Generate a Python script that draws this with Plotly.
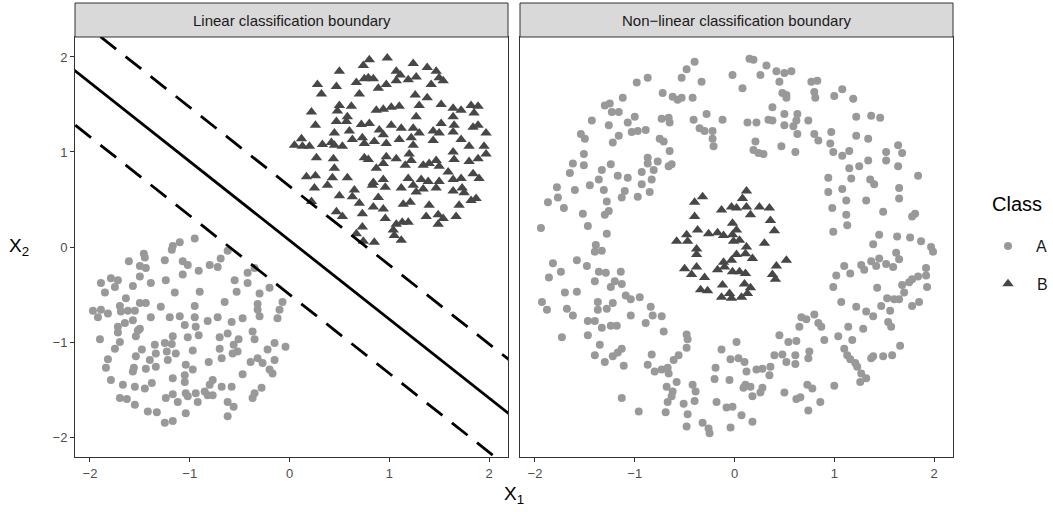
import plotly.graph_objects as go

# ---------------- data ----------------
# Left panel: linearly separable classes
left_A_x = [-0.95,-1.10,-1.17,-1.18,-0.62,-1.46,-1.45,-1.61,-1.25,-1.07,-1.02,-1.50,-1.44,-0.80,-0.72,-0.69,-0.91,-1.07,-0.42,-0.35,
            -1.79,-1.72,-1.50,-1.89,-1.75,-1.57,-1.39,-1.24,-0.55,-0.42,-1.85,-1.15,-0.90,-0.53,-0.30,-0.20,-1.64,-0.65,-0.32,-0.07,
            -1.70,-1.50,-1.44,-1.29,-0.95,-1.97,-1.89,-1.82,-1.69,-1.62,-1.55,-1.92,-1.39,-1.20,-1.10,-0.95,-0.82,-0.72,-0.58,-0.47,
            -0.32,-0.30,-0.10,-0.12,-1.65,-1.57,-1.72,-1.50,-1.05,-0.94,
            -1.90,-1.72,-1.52,-1.54,-1.70,-1.75,-1.82,-1.84,-1.54,-1.48,-1.35,-1.34,-1.25,-1.18,-1.17,-1.23,-1.14,-1.40,-1.44,-1.34,
            -1.56,-1.57,-1.22,-1.02,-0.91,-0.97,-1.04,-0.97,-0.70,-0.62,-0.51,-0.35,-0.37,-0.70,-0.68,-0.56,-0.57,-0.52,-0.81,-0.39,
            -0.32,-0.27,-0.22,-0.15,-0.04,-0.15,-0.20,-0.17,-0.47,-1.79,-1.67,-1.55,-1.45,-1.38,-1.17,-1.05,-1.05,-0.77,-0.80,-0.68,
            -0.58,-0.28,-1.70,-1.63,-1.55,-1.24,-1.17,-1.12,-1.04,-1.02,-0.94,-0.92,-0.85,-0.82,-0.77,-0.35,-0.37,-0.62,-0.56,-1.42,
            -1.33,-1.04,-1.25,-1.17,-0.62]
left_A_y = [0.09,0.05,0.01,-0.03,-0.04,-0.07,-0.11,-0.15,-0.14,-0.15,-0.19,-0.20,-0.22,-0.19,-0.21,-0.12,-0.25,-0.29,-0.27,-0.22,
            -0.33,-0.35,-0.31,-0.38,-0.42,-0.41,-0.38,-0.35,-0.35,-0.38,-0.48,-0.48,-0.47,-0.47,-0.49,-0.43,-0.54,-0.58,-0.60,-0.58,
            -0.62,-0.59,-0.59,-0.63,-0.62,-0.67,-0.66,-0.70,-0.68,-0.67,-0.67,-0.74,-0.74,-0.74,-0.73,-0.74,-0.78,-0.74,-0.79,-0.75,
            -0.66,-0.73,-0.66,-0.75,-0.80,-0.77,-0.84,-0.86,-0.82,-0.84,
            -0.97,-0.90,-0.88,-0.94,-1.00,-1.07,-1.18,-1.27,-1.15,-1.08,-1.03,-1.12,-1.01,-1.02,-0.94,-1.10,-1.12,-1.19,-1.28,-1.26,
            -1.27,-1.31,-1.19,-0.95,-0.93,-1.09,-1.24,-1.29,-0.95,-0.91,-0.97,-0.97,-0.89,-1.07,-1.17,-1.03,-1.12,-1.10,-1.21,-1.21,
            -1.17,-1.22,-1.08,-1.01,-1.05,-1.19,-1.29,-1.33,-1.34,-1.40,-1.45,-1.47,-1.49,-1.43,-1.38,-1.35,-1.42,-1.40,-1.45,-1.47,
            -1.47,-1.48,-1.59,-1.60,-1.66,-1.59,-1.55,-1.63,-1.54,-1.57,-1.54,-1.63,-1.52,-1.56,-1.56,-1.54,-1.59,-1.63,-1.68,-1.73,
            -1.74,-1.75,-1.85,-1.83,-1.78]

left_B_x = [0.80,0.98,0.74,0.50,1.24,1.38,1.47,1.07,1.11,0.75,0.84,0.67,0.79,1.27,1.19,1.50,1.54,1.07,0.97,0.89,
            0.28,0.47,0.32,0.70,1.42,1.26,1.38,1.30,1.52,0.50,0.62,0.48,0.87,0.94,1.02,1.10,1.64,1.72,1.82,1.89,
            0.22,0.58,1.27,1.64,1.85,0.47,0.57,0.72,0.80,1.02,1.12,1.24,1.52,1.65,0.26,1.89,1.84,0.60,0.45,0.90,
            0.94,1.30,1.44,1.50,1.64,1.97,0.12,0.05,0.13,0.20,0.33,0.42,0.45,0.53,0.63,0.73,0.75,0.85,0.97,1.10,
            1.22,1.24,1.44,1.72,1.80,1.95,
            1.64,1.97,0.27,0.44,0.75,0.79,0.97,1.07,1.20,1.22,1.16,1.34,1.40,1.47,1.50,1.65,1.80,1.89,0.45,0.87,
            0.94,1.59,0.17,0.26,0.43,0.58,1.84,1.90,0.84,0.94,1.19,1.32,1.39,1.50,1.64,1.72,0.25,0.38,0.65,0.83,
            0.96,1.12,1.24,1.27,1.34,1.47,1.64,1.73,1.75,0.22,0.50,0.63,0.89,1.82,1.87,0.70,0.84,0.94,1.14,1.21,
            1.40,1.70,0.47,0.53,0.73,0.96,1.37,1.49,1.54,1.67,1.07,1.13,1.19,1.49,0.73,1.04,0.67,1.05,1.12,0.85,
            0.74]
left_B_y = [1.97,1.99,1.91,1.85,1.93,1.89,1.85,1.85,1.81,1.77,1.77,1.73,1.78,1.79,1.76,1.78,1.75,1.75,1.71,1.67,
            1.71,1.69,1.61,1.61,1.71,1.60,1.57,1.49,1.50,1.49,1.48,1.43,1.44,1.45,1.47,1.48,1.46,1.44,1.49,1.48,
            1.42,1.37,1.37,1.37,1.41,1.32,1.32,1.29,1.30,1.28,1.25,1.25,1.30,1.28,1.28,1.28,1.26,1.22,1.20,1.23,
            1.18,1.20,1.22,1.20,1.21,1.20,1.14,1.07,1.06,1.06,1.08,1.10,1.07,1.06,1.13,1.15,1.09,1.11,1.09,1.13,
            1.15,1.07,1.12,1.13,1.06,1.06,
            1.00,0.98,0.94,0.93,0.94,0.92,0.95,0.93,0.98,0.91,0.86,0.86,0.88,0.91,0.85,0.92,0.90,0.93,0.83,0.83,
            0.88,0.79,0.74,0.75,0.73,0.73,0.77,0.72,0.68,0.71,0.72,0.71,0.69,0.69,0.71,0.72,0.62,0.65,0.60,0.65,
            0.63,0.62,0.65,0.58,0.61,0.62,0.59,0.62,0.57,0.48,0.54,0.53,0.52,0.49,0.51,0.46,0.42,0.40,0.45,0.47,
            0.44,0.44,0.37,0.32,0.35,0.30,0.32,0.34,0.30,0.32,0.24,0.26,0.26,0.24,0.21,0.18,0.14,0.12,0.07,0.05,
            0.06]

# Separating hyperplane and margins: y = slope * x + intercept
boundary_slope = -0.83
boundary_intercepts = [0.07, 0.64, -0.50]   # solid, upper margin, lower margin
boundary_dashes = ["solid", "20px,12px", "20px,12px"]

# Right panel: ring (A) around a disc (B)
right_A_x = [-0.40,-0.48,-0.53,-0.33,-0.02,-0.87,-0.98,-0.72,-0.62,-0.57,-0.53,-0.42,-1.12,-1.30,-1.25,-1.23,-1.16,-1.43,-1.26,-1.00,
             -1.07,-1.03,-0.97,-0.89,-0.73,-0.66,-0.65,-0.41,-0.28,-0.12,-0.35,-0.30,-0.22,-0.22,-0.21,-1.54,-1.50,-1.16,-1.22,-0.75,
             -0.71,-0.65,-1.51,-1.62,-1.51,-1.24,-0.87,-0.87,-0.77,-0.66,-0.63,-1.65,-1.33,-1.17,-1.07,-0.93,-0.81,-1.36,-0.83,
             0.15,0.19,0.32,0.26,0.42,0.50,0.57,0.45,0.77,0.83,0.08,0.48,0.52,0.52,0.80,0.81,1.08,1.00,1.19,0.38,
             0.50,0.63,0.13,0.22,0.34,0.38,0.50,0.59,0.62,0.74,1.22,1.37,1.46,0.63,0.80,0.84,0.97,0.96,1.22,1.34,
             0.21,0.19,0.24,0.29,0.47,0.61,0.99,1.08,1.15,1.34,1.52,1.52,1.64,1.68,1.15,1.25,1.64,1.84,0.94,1.17,1.36,
             -1.78,-1.60,-1.45,-0.93,-1.31,-1.13,-1.10,-0.97,-0.85,-1.87,-1.77,-1.71,-1.52,-1.28,-1.26,-1.30,-1.94,-1.47,-1.28,-1.39,
             -1.33,-1.40,-1.58,-1.48,-1.82,-1.74,-1.86,-1.36,-1.29,-1.14,-1.40,-1.20,-1.24,-1.13,-1.70,-1.58,-1.09,-1.04,-0.95,-1.93,
             -1.68,-1.37,-1.22,-0.84,
             1.40,1.65,1.08,0.94,1.12,1.32,1.65,0.98,1.12,1.49,1.78,1.81,1.13,0.99,1.45,1.39,1.63,1.76,1.87,1.97,
             1.99,1.62,1.65,1.45,1.37,1.42,1.52,1.59,1.27,1.30,1.10,1.16,1.02,0.99,1.43,1.68,1.75,1.78,1.84,1.92,
             1.92,1.93,1.70,1.53,1.60,1.65,1.07,1.22,1.47,1.78,1.85,
             -1.88,-1.62,-1.37,-1.28,-1.47,-1.40,-1.33,-1.24,-1.18,-1.04,-0.89,-0.82,-0.73,-0.71,-1.73,-1.47,-1.35,-1.40,-1.30,-1.22,
             -1.17,-1.13,-1.11,-0.83,-0.87,-0.80,-0.73,-0.67,-0.66,-0.61,-0.56,-0.48,-0.47,-0.48,-0.58,-0.68,-0.62,-0.63,-0.67,-0.42,
             -0.39,-0.40,-0.51,-1.13,-0.96,-0.69,-0.47,-0.13,-0.04,-0.19,-0.20,-0.05,-0.18,-0.08,-0.02,-0.32,-0.26,-0.25,-0.48,-0.04,
             1.32,1.39,1.56,0.67,0.72,0.80,0.84,0.87,0.65,1.14,1.29,1.54,1.57,0.45,0.54,0.62,0.90,1.04,1.18,0.02,
             1.10,1.66,0.40,0.48,0.61,0.75,0.74,1.13,1.16,1.21,1.23,1.37,1.39,1.49,1.58,0.04,0.10,0.52,0.61,0.12,
             0.22,0.28,0.36,0.35,1.27,1.32,1.26,0.11,0.09,0.16,0.28,0.26,0.18,0.50,0.62,0.66,0.73,0.78,1.00,0.86,
             0.74,0.07,0.18]
right_A_y = [1.95,1.87,1.78,1.74,1.81,1.78,1.73,1.62,1.58,1.55,1.57,1.57,1.57,1.49,1.51,1.42,1.42,1.33,1.28,1.37,
             1.31,1.21,1.22,1.23,1.35,1.36,1.31,1.34,1.40,1.34,1.25,1.22,1.22,1.14,1.06,1.19,1.14,1.17,1.10,1.14,
             1.11,1.01,0.98,0.88,0.86,0.87,0.94,0.88,0.90,0.85,0.87,0.78,0.81,0.75,0.73,0.79,0.81,0.71,0.71,
             1.98,1.97,1.91,1.81,1.85,1.83,1.85,1.74,1.74,1.75,1.67,1.62,1.60,1.57,1.63,1.57,1.66,1.59,1.56,1.47,
             1.40,1.40,1.31,1.31,1.34,1.33,1.28,1.27,1.33,1.33,1.37,1.38,1.36,1.19,1.19,1.12,1.21,1.09,1.17,1.14,
             1.11,1.02,0.99,0.98,1.06,1.00,1.00,0.96,1.01,0.91,1.00,0.91,1.07,0.99,0.83,0.85,0.85,0.75,0.73,0.72,0.71,
             0.63,0.60,0.65,0.66,0.60,0.52,0.59,0.53,0.58,0.47,0.52,0.41,0.35,0.48,0.38,0.34,0.20,0.22,0.14,0.02,
             -0.04,-0.05,-0.14,-0.20,-0.17,-0.26,-0.32,-0.26,-0.27,-0.26,-0.36,-0.36,-0.42,-0.39,-0.48,-0.47,-0.51,-0.55,-0.53,-0.58,
             -0.65,-0.58,-0.59,-0.63,
             0.66,0.62,0.61,0.58,0.49,0.49,0.51,0.41,0.34,0.37,0.32,0.35,0.23,0.16,0.13,0.03,0.11,0.10,0.06,0.00,
             -0.05,-0.06,-0.13,-0.12,-0.15,-0.20,-0.18,-0.21,-0.19,-0.24,-0.20,-0.28,-0.30,-0.42,-0.43,-0.40,-0.37,-0.34,-0.31,-0.30,
             -0.22,-0.42,-0.48,-0.54,-0.55,-0.55,-0.58,-0.63,-0.62,-0.62,-0.58,
             -0.66,-0.72,-0.66,-0.65,-0.78,-0.78,-0.85,-0.83,-0.83,-0.72,-0.80,-0.72,-0.73,-0.89,-0.95,-0.93,-1.03,-1.14,-1.21,-1.15,
             -1.11,-1.07,-1.25,-1.13,-1.24,-1.31,-1.29,-1.27,-1.33,-1.19,-1.14,-0.92,-0.97,-1.06,-1.42,-1.47,-1.52,-1.57,-1.63,-1.45,
             -1.52,-1.62,-1.65,-1.59,-1.73,-1.74,-1.76,-1.08,-1.18,-1.27,-1.39,-1.40,-1.63,-1.69,-1.68,-1.85,-1.91,-1.96,-1.89,-1.90,
             -0.68,-0.73,-0.67,-0.74,-0.76,-0.71,-0.80,-0.84,-0.84,-0.84,-0.86,-0.79,-0.84,-0.93,-1.00,-0.99,-0.98,-0.94,-0.98,-1.00,
             -1.07,-1.04,-1.14,-1.13,-1.14,-1.10,-1.17,-1.14,-1.18,-1.22,-1.26,-1.17,-1.15,-1.15,-1.14,-1.17,-1.21,-1.21,-1.23,-1.31,
             -1.29,-1.28,-1.26,-1.35,-1.33,-1.38,-1.42,-1.45,-1.48,-1.47,-1.48,-1.53,-1.57,-1.53,-1.60,-1.58,-1.45,-1.49,-1.46,-1.63,
             -1.72,-1.77,-1.84]

right_B_x = [-0.32,-0.40,-0.40,-0.13,-0.03,-0.58,-0.48,-0.47,-0.37,-0.26,-0.17,-0.11,-0.02,-0.38,-0.38,-0.02,-0.50,-0.38,-0.43,-0.30,
             -0.17,-0.11,-0.03,-0.10,-0.34,-0.27,-0.12,-0.05,-0.13,
             0.12,0.08,0.02,0.12,0.25,0.35,0.16,0.02,0.36,0.40,-0.01,0.05,0.12,0.30,0.02,0.11,0.18,0.52,0.42,-0.02,
             0.05,0.11,0.38,0.41,0.10,0.16,0.13,0.07,-0.03]
right_B_y = [0.53,0.47,0.32,0.39,0.42,0.06,0.13,0.06,0.18,0.14,0.15,0.12,0.13,-0.02,-0.08,0.25,-0.23,-0.21,-0.29,-0.32,
             -0.24,-0.16,-0.14,-0.21,-0.45,-0.46,-0.40,-0.49,-0.53,
             0.59,0.51,0.41,0.42,0.42,0.41,0.34,0.18,0.28,0.17,0.06,0.07,0.00,0.04,-0.08,-0.07,-0.12,-0.14,-0.20,-0.26,
             -0.26,-0.28,-0.29,-0.34,-0.39,-0.43,-0.49,-0.53,-0.54]

panel_titles = ["Linear classification boundary", "Non\u2212linear classification boundary"]
tick_vals = [-2, -1, 0, 1, 2]
tick_text = ["\u22122", "\u22121", "0", "1", "2"]
class_names = ["A", "B"]
legend_title = "Class"

# ---------------- styling ----------------
W, H = 1053, 512
FONT = "Liberation Sans, Arial, Helvetica, sans-serif"
COL_A = "#999999"
COL_B = "#474747"
x_range = [-2.15, 2.19]
y_range = [-2.21, 2.21]

px_l = (75, 508)
px_r = (520, 953)
py_top, py_bot = 37, 457

def xd(a, b):
    return [a / W, b / W]

y_dom = [1 - py_bot / H, 1 - py_top / H]

fig = go.Figure()

# Left panel points
fig.add_trace(go.Scatter(x=left_A_x, y=left_A_y, mode="markers", xaxis="x", yaxis="y",
                         marker=dict(symbol="circle", size=8, color=COL_A),
                         name="  " + class_names[0], legendgroup="A", showlegend=True))
fig.add_trace(go.Scatter(x=left_B_x, y=left_B_y, mode="markers", xaxis="x", yaxis="y",
                         marker=dict(symbol="triangle-up", size=10, color=COL_B),
                         name="  " + class_names[1], legendgroup="B", showlegend=True))

# Boundary lines
line_x = [x_range[0] - 0.5, x_range[1] + 0.5]
for icpt, dash in zip(boundary_intercepts, boundary_dashes):
    fig.add_trace(go.Scatter(x=line_x, y=[boundary_slope * v + icpt for v in line_x], mode="lines",
                             xaxis="x", yaxis="y", line=dict(color="black", width=2.8, dash=dash),
                             showlegend=False, hoverinfo="skip"))

# Right panel points
fig.add_trace(go.Scatter(x=right_A_x, y=right_A_y, mode="markers", xaxis="x2", yaxis="y2",
                         marker=dict(symbol="circle", size=8, color=COL_A),
                         name=class_names[0], legendgroup="A", showlegend=False))
fig.add_trace(go.Scatter(x=right_B_x, y=right_B_y, mode="markers", xaxis="x2", yaxis="y2",
                         marker=dict(symbol="triangle-up", size=10, color=COL_B),
                         name=class_names[1], legendgroup="B", showlegend=False))

axis_common = dict(showgrid=False, zeroline=False, showline=True, mirror=True,
                   linecolor="#333333", linewidth=1, ticks="outside", ticklen=4, tickcolor="#333333",
                   tickwidth=1, tickvals=tick_vals, ticktext=tick_text,
                   tickfont=dict(family=FONT, size=13, color="#4D4D4D"))

fig.update_layout(
    width=W, height=H,
    margin=dict(l=0, r=0, t=0, b=0),
    paper_bgcolor="white", plot_bgcolor="white",
    font=dict(family=FONT),
    xaxis=dict(axis_common, domain=xd(*px_l), range=x_range, anchor="y"),
    yaxis=dict(axis_common, domain=y_dom, range=y_range, anchor="x"),
    xaxis2=dict(axis_common, domain=xd(*px_r), range=x_range, anchor="y2"),
    yaxis2=dict(axis_common, domain=y_dom, range=y_range, anchor="x2",
                showticklabels=False, ticks=""),
    legend=dict(x=988 / W, y=1 - 229 / H, xanchor="left", yanchor="top",
                font=dict(family=FONT, size=16, color="#1A1A1A"),
                tracegroupgap=14, bgcolor="rgba(0,0,0,0)"),
    showlegend=True,
    hovermode=False,
)

# Facet strips
shapes = []
annotations = []
for (a, b), title in zip([px_l, px_r], panel_titles):
    shapes.append(dict(type="rect", xref="paper", yref="paper", x0=a / W, x1=b / W,
                       y0=1 - py_top / H, y1=1 - 3 / H, fillcolor="#D9D9D9",
                       line=dict(color="#333333", width=1), layer="above"))
    annotations.append(dict(text=title, xref="paper", yref="paper", x=(a + b) / 2 / W,
                            y=1 - 20 / H, showarrow=False, xanchor="center", yanchor="middle",
                            font=dict(family=FONT, size=15, color="#1A1A1A")))

# Legend title
annotations.append(dict(text=legend_title, xref="paper", yref="paper", x=990 / W, y=1 - 204 / H,
                        showarrow=False, xanchor="left", yanchor="middle",
                        font=dict(family=FONT, size=20, color="black")))

# Axis titles
annotations.append(dict(text="X<sub>1</sub>", xref="paper", yref="paper", x=514 / W, y=1 - 495 / H,
                        showarrow=False, xanchor="center", yanchor="middle",
                        font=dict(family=FONT, size=19, color="black")))
annotations.append(dict(text="X<sub>2</sub>", xref="paper", yref="paper", x=19 / W, y=1 - 247 / H,
                        showarrow=False, xanchor="center", yanchor="middle",
                        font=dict(family=FONT, size=19, color="black")))

fig.update_layout(shapes=shapes, annotations=annotations)

fig.write_html("out.html", config={"displayModeBar": False},
               post_script="document.body.style.margin='0px';")
